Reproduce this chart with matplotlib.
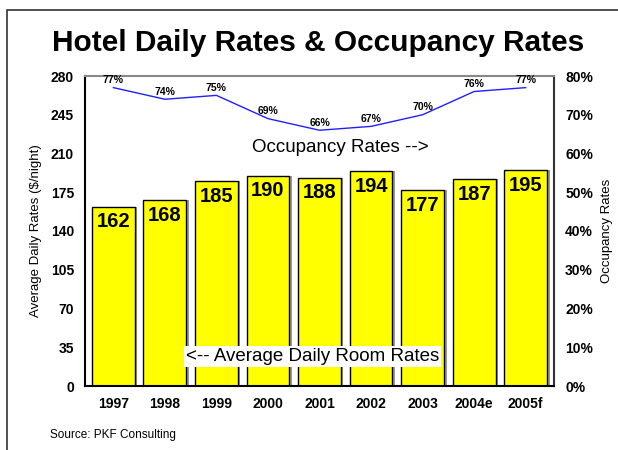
import matplotlib.pyplot as plt
from matplotlib.patches import Rectangle

years = ['1997', '1998', '1999', '2000', '2001', '2002', '2003', '2004e', '2005f']
daily_rates = [162, 168, 185, 190, 188, 194, 177, 187, 195]
occupancy = [77, 74, 75, 69, 66, 67, 70, 76, 77]
left_ticks = [0, 35, 70, 105, 140, 175, 210, 245, 280]
right_ticks = [0, 10, 20, 30, 40, 50, 60, 70, 80]

plt.rcParams['font.family'] = ['Liberation Sans', 'DejaVu Sans']

fig = plt.figure(figsize=(6.18, 4.5), dpi=100)
fig.patch.set_facecolor('white')

# outer frame (cut off on right/bottom like the original)
fig.patches.append(Rectangle((7 / 618, -0.1), 1.2, 1 - 10 / 450 + 0.1,
                             transform=fig.transFigure, fill=False,
                             edgecolor='#333333', linewidth=1.2))

ax = fig.add_axes([85 / 618, 1 - 386 / 450, 469 / 618, 310 / 450])
x = range(len(years))

# drop shadows
ax.bar([i + 0.05 for i in x], daily_rates, width=0.83, color='#999999',
       zorder=1)
bars = ax.bar(x, daily_rates, width=0.83, color='#ffff00',
              edgecolor='black', linewidth=1, zorder=2)
for i, v in enumerate(daily_rates):
    ax.text(i, v - 5, str(v), ha='center', va='top', fontsize=14.5,
            fontweight='bold', zorder=3)

ax.set_xlim(-0.55, len(years) - 0.45)
ax.set_ylim(0, 280)
ax.set_yticks(left_ticks)
ax.set_yticklabels([str(t) for t in left_ticks], fontweight='bold', fontsize=10)
ax.set_xticks(list(x))
ax.set_xticklabels(years, fontweight='bold', fontsize=10)
ax.tick_params(length=0, pad=8)
ax.set_ylabel('Average Daily Rates ($/night)', fontsize=9.5, labelpad=6)
for s in ['left', 'bottom']:
    ax.spines[s].set_linewidth(1.5)
ax.spines['top'].set_color('#888888')
ax.spines['top'].set_linewidth(1.5)
ax.spines['right'].set_color('#333333')
ax.spines['right'].set_linewidth(1.5)

ax2 = ax.twinx()
ax2.plot(list(x), occupancy, color='#2020ff', linewidth=1, zorder=4)
for i, v in enumerate(occupancy):
    ax2.text(i, v + 0.6, f'{v}%', ha='center', va='bottom', fontsize=7.5,
             fontweight='bold')
ax2.set_ylim(0, 80)
ax2.set_yticks(right_ticks)
ax2.set_yticklabels([f'{t}%' for t in right_ticks], fontweight='bold',
                    fontsize=10)
ax2.tick_params(length=0, pad=8)
ax2.set_ylabel('Occupancy Rates', fontsize=9.5, labelpad=6)
for s in ax2.spines.values():
    s.set_visible(False)

ax2.text(4.4, 61.5, 'Occupancy Rates -->', ha='center', va='center',
         fontsize=13.5)
ax.text(3.86, 27, '<-- Average Daily Room Rates', ha='center', va='center',
        fontsize=13.5, zorder=5,
        bbox=dict(facecolor='white', edgecolor='none', pad=1.5))

fig.text(0.515, 1 - 43 / 450, 'Hotel Daily Rates & Occupancy Rates',
         ha='center', va='center', fontsize=21.5, fontweight='bold')
fig.text(50 / 618, 1 - 435 / 450, 'Source: PKF Consulting', ha='left',
         va='center', fontsize=8.5)

fig.savefig('out.png', dpi=100)
